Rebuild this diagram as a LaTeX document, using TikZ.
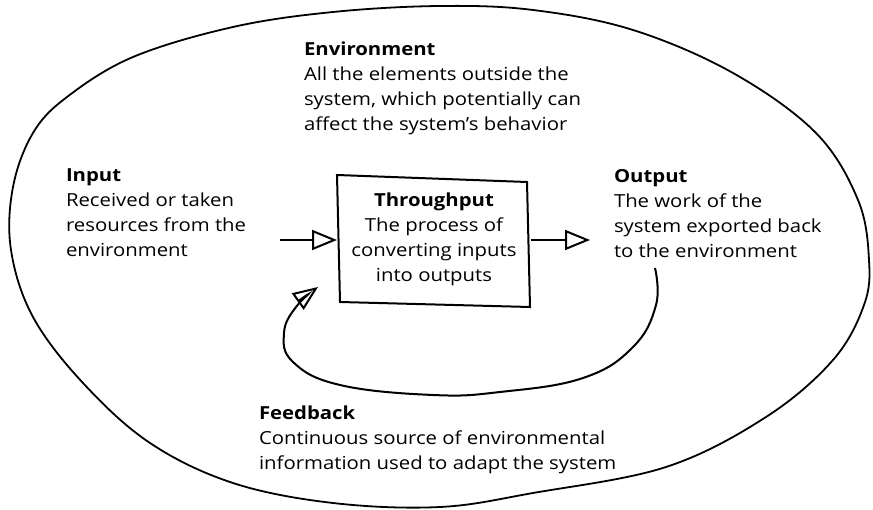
\documentclass[tikz,border=0pt]{standalone}
\usepackage{fontspec}
\setmainfont[FakeStretch=1.13]{Open Sans}
\usetikzlibrary{arrows.meta}
\begin{document}
\begin{tikzpicture}[x=1pt,y=-1pt,line width=2pt,
  txt/.style={anchor=north west,inner sep=0pt,align=left,font=\fontsize{18}{25}\selectfont},
  arr/.style={-{Triangle[open,length=25pt,width=20pt,line width=2pt]}},
  blob/.style={line width=1.8pt}]
\useasboundingbox (0,0) rectangle (873,510);
% environment outline
\draw[blob] plot[smooth cycle,tension=0.6] coordinates {
 (440,6) (533,10) (633,30) (733,73) (816,133) (858,200) (869,260) (864,305)
 (833,360) (766,417) (666,467) (533,493) (440,507) (333,503) (233,483)
 (150,443) (83,383) (33,317) (11,250) (13,187) (33,133) (67,97) (133,57)
 (233,27) (333,12)};
% throughput box
\node (thr) at (434,239) [minimum width=192pt,minimum height=128pt,inner sep=0pt,
  align=center,font=\fontsize{18}{25}\selectfont]
  {\textbf{Throughput}\\The process of\\converting inputs\\into outputs};
\draw (337,175) -- (527,182) -- (530,307) -- (340,302) -- cycle;
% labels
\node (env) at (303,41) [txt] {\textbf{Environment}\\All the elements outside the\\system, which potentially can\\affect the system's behavior};
\node (inp) at (65,168) [txt] {\textbf{Input}\\Received or taken\\resources from the\\environment};
\node (out) at (613,168) [txt] {\textbf{Output}\\The work of the\\system exported back\\to the environment};
\node (fb) at (258,405) [txt] {\textbf{Feedback}\\Continuous source of environmental\\information used to adapt the system};
% arrows
\coordinate (inS) at (280,240);
\coordinate (outE) at (590,240);
\draw[arr] (inS) -- (inS -| thr.west);
\draw[arr] (outE -| thr.east) -- (outE);
\coordinate (fbS) at (655,268);
\coordinate (fbE) at (318,287);
\draw[arr] plot[smooth,tension=0.7] coordinates {(fbS) (656,305) (633,347) (583,378) (500,392) (433,395) (340,385) (293,362) (284,333) (296,307) (fbE)};
\end{tikzpicture}
\end{document}
